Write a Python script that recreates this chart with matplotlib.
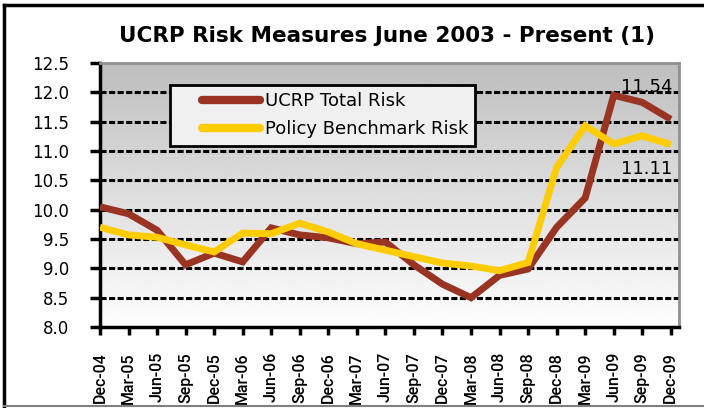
import numpy as np
import matplotlib
matplotlib.use('Agg')
import matplotlib.pyplot as plt
from matplotlib.lines import Line2D
from matplotlib.legend_handler import HandlerLine2D

# quarterly labels, Dec-04 .. Dec-09
quarters = ['Dec-04', 'Mar-05', 'Jun-05', 'Sep-05', 'Dec-05', 'Mar-06', 'Jun-06',
            'Sep-06', 'Dec-06', 'Mar-07', 'Jun-07', 'Sep-07', 'Dec-07', 'Mar-08',
            'Jun-08', 'Sep-08', 'Dec-08', 'Mar-09', 'Jun-09', 'Sep-09', 'Dec-09']
ucrp_total = [10.05, 9.93, 9.65, 9.06, 9.26, 9.11, 9.69, 9.57, 9.52, 9.42, 9.45,
              9.06, 8.73, 8.50, 8.88, 8.99, 9.70, 10.20, 11.95, 11.83, 11.54]
benchmark = [9.70, 9.57, 9.53, 9.40, 9.28, 9.60, 9.59, 9.77, 9.62, 9.42, 9.31,
             9.20, 9.09, 9.04, 8.96, 9.10, 10.72, 11.43, 11.12, 11.26, 11.11]
yticks = [8.0, 8.5, 9.0, 9.5, 10.0, 10.5, 11.0, 11.5, 12.0, 12.5]

font = 'DejaVu Sans'
narrow = 'Roboto'
brown = '#993322'
yellow = '#FFCC00'


class ShortHandle(HandlerLine2D):
    # legend line only on the right part of the handle box
    def get_xdata(self, legend, xdescent, ydescent, width, height, fontsize):
        xd = np.array([-xdescent + 0.3 * width, -xdescent + width])
        return xd, xd


fig = plt.figure(figsize=(7.04, 4.08), dpi=100)
ax = fig.add_axes([0.142, 0.1985, 0.823, 0.647])

# gradient background (gray at top, white at bottom)
grad = np.linspace(0.745, 0.995, 256).reshape(-1, 1)
ax.imshow(grad, cmap='gray', vmin=0, vmax=1, aspect='auto',
          extent=[0, 1, 0, 1], transform=ax.transAxes, zorder=0)

x = np.arange(len(quarters))
ax.set_xlim(0, 20.3)
ax.set_ylim(8.0, 12.5)

for yv in yticks[1:-1]:
    ax.axhline(yv, color='black', lw=2.2, ls=(0, (2, 0.8)), zorder=1)
ax.axhline(12.5, color='#909090', lw=1.5, ls=(0, (2, 0.8)), zorder=1)

ax.plot(x, ucrp_total, color=brown, lw=5, solid_joinstyle='miter',
        solid_capstyle='butt', zorder=3)
ax.plot(x, benchmark, color=yellow, lw=5, solid_joinstyle='miter',
        solid_capstyle='butt', zorder=3)

ax.text(20.05, 12.0, '11.54', ha='right', va='baseline', fontsize=13,
        family=font, zorder=4)
ax.text(20.05, 10.69, '11.11', ha='right', va='center', fontsize=13,
        family=font, zorder=4)

ax.set_yticks(yticks)
ax.set_yticklabels(['%.1f' % v for v in yticks], family=font, fontsize=12)
ax.set_xticks(x)
ax.set_xticklabels(quarters, rotation=90, fontsize=11.5, family=narrow,
                   fontweight='medium')
ax.tick_params(axis='y', length=7, width=2.5, pad=15)
ax.tick_params(axis='x', length=6, width=2.5, pad=12)

for s in ['left', 'bottom']:
    ax.spines[s].set_linewidth(2.5)
    ax.spines[s].set_color('black')
for s in ['right', 'top']:
    ax.spines[s].set_linewidth(2)
    ax.spines[s].set_color('#909090')

handles = [Line2D([], [], color=brown, lw=6, solid_capstyle='round'),
           Line2D([], [], color=yellow, lw=6, solid_capstyle='round')]
leg = ax.legend(handles, ['UCRP Total Risk', 'Policy Benchmark Risk'],
                loc='upper left', bbox_to_anchor=(0.121, 0.916),
                borderaxespad=0, fancybox=False, handlelength=4.6,
                handler_map={Line2D: ShortHandle()},
                prop={'family': font, 'size': 13}, borderpad=0.4,
                labelspacing=0.55, handletextpad=0.25, framealpha=1)
leg.get_frame().set_edgecolor('black')
leg.get_frame().set_linewidth(2)
leg.get_frame().set_facecolor('#f0f0f0')
leg.set_zorder(5)

fig.text(0.5504, 0.912, 'UCRP Risk Measures June 2003 - Present (1)',
         ha='center', va='center', fontsize=15.5, fontweight='bold', family=font)

# outer frame
fig.add_artist(Line2D([0.005, 0.005], [0.003, 0.988], color='black', lw=2.5,
                      transform=fig.transFigure))
fig.add_artist(Line2D([0.005, 1.0], [0.988, 0.988], color='black', lw=2.5,
                      transform=fig.transFigure))
fig.add_artist(Line2D([0.005, 1.0], [0.004, 0.004], color='#808080', lw=1.5,
                      transform=fig.transFigure))

fig.savefig('out.png', dpi=100)
